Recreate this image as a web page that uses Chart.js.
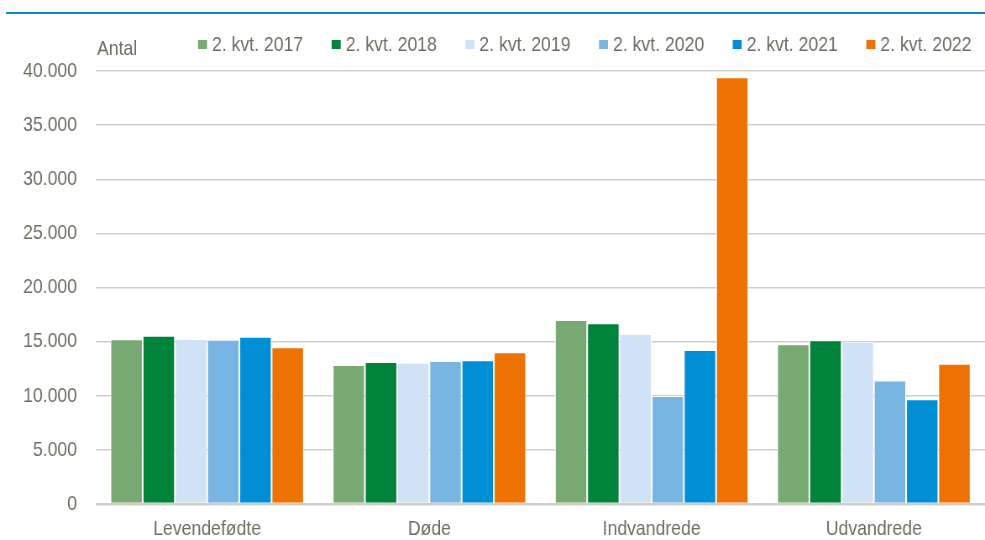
<!DOCTYPE html>
<html>
<head>
<meta charset="utf-8">
<script src="https://cdn.jsdelivr.net/npm/chart.js@4.4.1/dist/chart.umd.min.js"></script>
<style>
  html, body { margin: 0; padding: 0; background: #fff; }
  #wrap { width: 985px; height: 540px; overflow: hidden; }
  /* the reference uses a narrow sans; squeeze the canvas sideways to get the same look */
  #barChart { display: block; width: 985px; height: 540px; }
</style>
</head>
<body>
<div id="wrap"><canvas id="barChart" width="1173" height="540" style="width:985px;height:540px"></canvas></div>
<script>
// data
var kategorier = ['Levendefødte', 'Døde', 'Indvandrede', 'Udvandrede']
var perioder = ['2. kvt. 2017', '2. kvt. 2018', '2. kvt. 2019', '2. kvt. 2020', '2. kvt. 2021', '2. kvt. 2022']
var kvt2017 = [15210, 12830, 17000, 14750]
var kvt2018 = [15550, 13110, 16700, 15120]
var kvt2019 = [15240, 13040, 15700, 14990]
var kvt2020 = [15180, 13200, 9980, 11410]
var kvt2021 = [15460, 13290, 14220, 9680]
var kvt2022 = [14470, 14030, 39420, 12950]
var yTicks = [0, 5000, 10000, 15000, 20000, 25000, 30000, 35000, 40000]

var farver = ['#79a972', '#00833b', '#d0e2f6', '#78b5e3', '#008fd5', '#ee7203']
var serier = [kvt2017, kvt2018, kvt2019, kvt2020, kvt2021, kvt2022]

// horizontal squeeze: canvas units -> screen px
var S = 985 / 1173
function px(v) { return v / S }

var tekstFarve = '#6e6d62'
var fontFam = "'Liberation Sans', Arial, sans-serif"
var fontStr = 21
Chart.defaults.font.family = fontFam
Chart.defaults.font.size = fontStr
Chart.defaults.color = tekstFarve

function tusind(v) {
  return String(v).replace(/\B(?=(\d{3})+(?!\d))/g, '.')
}

// blue rule at the top, "Antal" and the legend row
var pynt = {
  id: 'pynt',
  afterDraw: function (chart) {
    var ctx = chart.ctx
    ctx.save()
    ctx.fillStyle = '#0b89cd'
    ctx.fillRect(px(6), 12, chart.width, 2)

    ctx.font = fontStr + 'px ' + fontFam
    ctx.fillStyle = tekstFarve
    ctx.textBaseline = 'middle'
    ctx.textAlign = 'left'
    ctx.fillText('Antal', px(97), 49)

    var x = px(198)
    chart.data.datasets.forEach(function (ds) {
      ctx.fillStyle = ds.backgroundColor
      ctx.fillRect(x, 40, px(9), 9)
      ctx.fillStyle = tekstFarve
      ctx.fillText(ds.label, x + px(14), 45)
      x += px(14) + ctx.measureText(ds.label).width + px(28.5)
    })
    ctx.restore()
  }
}

var datasets = perioder.map(function (p, i) {
  return {
    label: p,
    data: serier[i],
    backgroundColor: farver[i],
    borderColor: '#ffffff',
    borderWidth: 1,
    categoryPercentage: 0.87,
    barPercentage: 1.0
  }
})

var ctx = document.getElementById('barChart').getContext('2d')
window.myBar = new Chart(ctx, {
  type: 'bar',
  data: { labels: kategorier, datasets: datasets },
  plugins: [pynt],
  options: {
    responsive: false,
    animation: false,
    devicePixelRatio: 1,
    layout: { padding: { top: 71, right: 0, left: 0, bottom: 0 } },
    plugins: {
      legend: { display: false },
      tooltip: { enabled: false }
    },
    scales: {
      x: {
        grid: { display: false, drawTicks: false },
        border: { display: false },
        ticks: { color: tekstFarve, padding: 13, font: { size: fontStr } },
        afterFit: function (s) { s.height = 36 }
      },
      y: {
        min: 0,
        max: 40000,
        afterBuildTicks: function (s) {
          s.ticks = yTicks.map(function (v) { return { value: v } })
        },
        grid: {
          drawTicks: false,
          color: '#cfcfc8',
          lineWidth: function (c) { return c.tick && c.tick.value === 0 ? 2.5 : 1.4 }
        },
        border: { display: false },
        ticks: {
          color: tekstFarve,
          padding: px(19),
          font: { size: fontStr },
          callback: function (v) { return tusind(v) }
        },
        afterFit: function (s) { s.width = px(96) }
      }
    }
  }
})
</script>
</body>
</html>
